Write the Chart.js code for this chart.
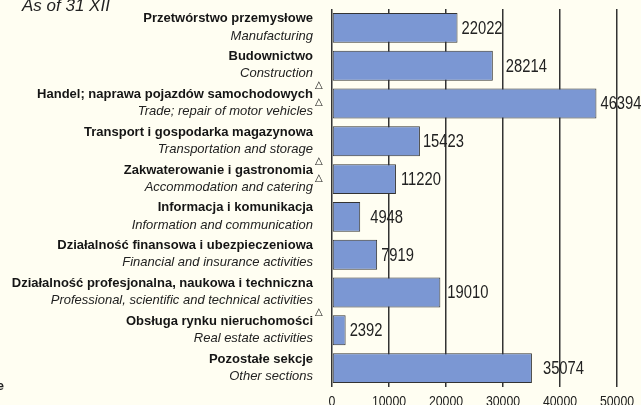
<!DOCTYPE html>
<html>
<head>
<meta charset="utf-8">
<script src="https://cdn.jsdelivr.net/npm/chart.js@4/dist/chart.umd.min.js"></script>
<style>
    body { margin: 0; background: #fffef2; }
    #chart { display: block; }
</style>
</head>
<body>
<canvas id="chart" width="641" height="405"></canvas>
<script>
const sekcjePl = [
    'Przetwórstwo przemysłowe',
    'Budownictwo',
    'Handel; naprawa pojazdów samochodowych',
    'Transport i gospodarka magazynowa',
    'Zakwaterowanie i gastronomia',
    'Informacja i komunikacja',
    'Działalność finansowa i ubezpieczeniowa',
    'Działalność profesjonalna, naukowa i techniczna',
    'Obsługa rynku nieruchomości',
    'Pozostałe sekcje'
];
const sekcjeEn = [
    'Manufacturing',
    'Construction',
    'Trade; repair of motor vehicles',
    'Transportation and storage',
    'Accommodation and catering',
    'Information and communication',
    'Financial and insurance activities',
    'Professional, scientific and technical activities',
    'Real estate activities',
    'Other sections'
];
const wartosci = [22022, 28214, 46394, 15423, 11220, 4948, 7919, 19010, 2392, 35074];
// △ after the Polish / English name
const znakPl = [0, 0, 1, 0, 1, 0, 0, 0, 1, 0];
const znakEn = [0, 0, 1, 0, 1, 0, 0, 0, 0, 0];
const osX = [0, 10000, 20000, 30000, 40000, 50000];

// gap between bar end and its value
const odstep = [4, 13, 4, 3, 5, 10, 4, 7, 4, 11];

// narrow text: Liberation Sans squeezed horizontally
function tekstWaski(ctx, txt, x, y, align) {
    const s = 0.82;
    ctx.save();
    ctx.translate(x, y);
    ctx.scale(s, 1);
    ctx.textAlign = align;
    ctx.fillText(txt, 0, 0);
    ctx.restore();
}

const etykietyPlugin = {
    id: 'etykiety',
    afterDraw(chart) {
        const ctx = chart.ctx;
        const y = chart.scales.y;
        const x = chart.scales.x;
        ctx.save();

        ctx.fillStyle = '#222';
        ctx.font = 'italic 17px "Liberation Sans"';
        ctx.textAlign = 'left';
        ctx.textBaseline = 'alphabetic';
        ctx.fillText('As of 31 XII', 22, 11);

        ctx.font = 'bold 13px "Liberation Sans"';
        ctx.textAlign = 'right';
        ctx.textBaseline = 'middle';
        ctx.fillText('e', 4, 386);

        // x axis values
        ctx.font = '15px "Liberation Sans"';
        ctx.textBaseline = 'alphabetic';
        osX.forEach(v => {
            tekstWaski(ctx, String(v), x.getPixelForValue(v), 406, 'center');
        });

        sekcjePl.forEach((nazwa, i) => {
            const yc = y.getPixelForValue(i);
            ctx.textAlign = 'right';
            ctx.textBaseline = 'middle';
            ctx.fillStyle = '#151515';
            ctx.font = 'bold 13px "Liberation Sans"';
            ctx.fillText(nazwa, 313, yc - 9);
            ctx.fillStyle = '#222';
            ctx.font = 'italic 13px "Liberation Sans"';
            ctx.fillText(sekcjeEn[i], 313, yc + 8);

            ctx.textAlign = 'left';
            ctx.font = '10px "DejaVu Sans"';
            ctx.fillStyle = '#111';
            if (znakPl[i]) ctx.fillText('△', 315, yc - 18);
            if (znakEn[i]) ctx.fillText('△', 315, yc - 1);

            ctx.font = '18px "Liberation Sans"';
            ctx.fillStyle = '#222';
            tekstWaski(ctx, String(wartosci[i]), x.getPixelForValue(wartosci[i]) + odstep[i], yc + 1, 'left');
        });
        ctx.restore();
    }
};

new Chart(document.getElementById('chart'), {
    type: 'bar',
    data: {
        labels: sekcjePl,
        datasets: [{
            data: wartosci,
            backgroundColor: '#7b97d3',
            borderColor: '#333',
            borderWidth: 1,
            borderSkipped: false,
            barPercentage: 0.79,
            categoryPercentage: 1
        }]
    },
    options: {
        indexAxis: 'y',
        responsive: false,
        animation: false,
        events: [],
        layout: { padding: { left: 332, right: 24, top: 9, bottom: 0 } },
        plugins: {
            legend: { display: false },
            tooltip: { enabled: false }
        },
        scales: {
            x: {
                min: 0,
                max: 50000,
                afterBuildTicks(scale) {
                    scale.ticks = osX.map(v => ({ value: v }));
                },
                afterFit(scale) {
                    scale.height = 18;
                },
                grid: { color: '#333', lineWidth: 1.5, drawTicks: false },
                border: { display: false },
                ticks: { display: false }
            },
            y: {
                display: false,
                grid: { display: false }
            }
        }
    },
    plugins: [etykietyPlugin]
});
</script>
</body>
</html>
